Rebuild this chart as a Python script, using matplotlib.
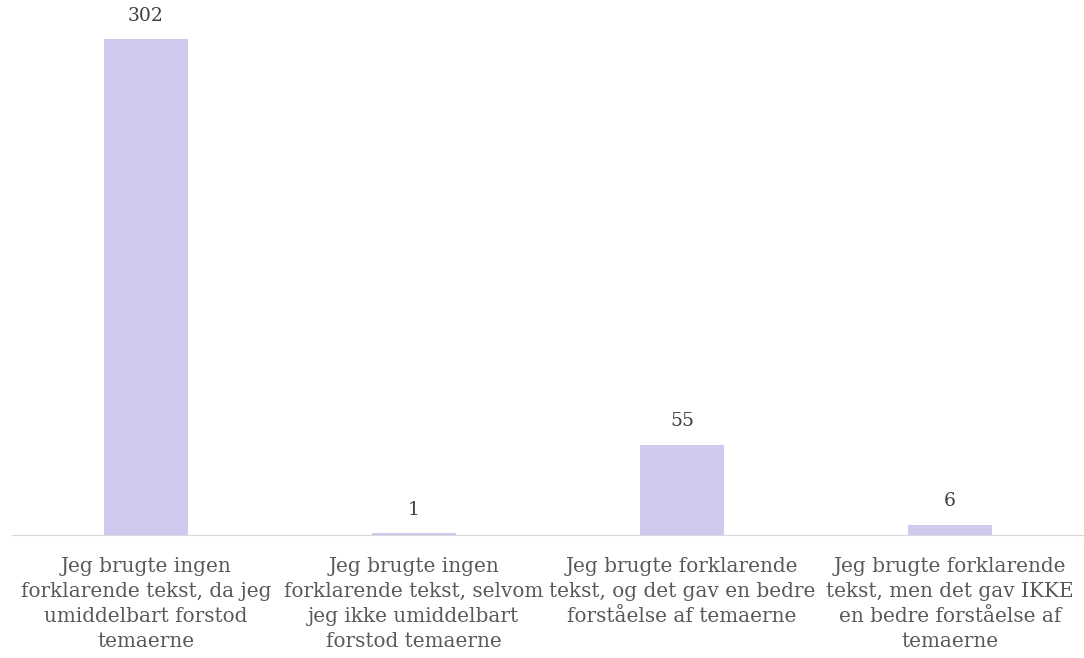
import matplotlib
matplotlib.use("Agg")
import matplotlib.pyplot as plt

categories = [
    "Jeg brugte ingen\nforklarende tekst, da jeg\numiddelbart forstod\ntemaerne",
    "Jeg brugte ingen\nforklarende tekst, selvom\njeg ikke umiddelbart\nforstod temaerne",
    "Jeg brugte forklarende\ntekst, og det gav en bedre\nforståelse af temaerne",
    "Jeg brugte forklarende\ntekst, men det gav IKKE\nen bedre forståelse af\ntemaerne",
]
counts = [302, 1, 55, 6]

bar_color = "#D0C8EE"
text_color = "#595959"

plt.rcParams['font.family'] = ['DejaVu Serif']

fig = plt.figure(figsize=(10.84, 6.58), dpi=100)
ax = fig.add_axes([12/1084, 123/658, 1 - 12/1084, 1 - 123/658])

x = range(len(counts))
bars = ax.bar(x, counts, width=0.31, color=bar_color)
for xi, v in zip(x, counts):
    ax.text(xi, v + 9, str(v), ha='center', va='bottom', fontsize=13.5, color="#404040")

ax.set_xlim(-0.5, len(counts) - 0.5)
ax.set_ylim(0, 326)
ax.set_yticks([])
ax.set_xticks(list(x))
ax.set_xticklabels(categories, fontsize=14.4, color=text_color, linespacing=1.4)
ax.tick_params(axis='x', length=0, pad=16)
for s in ['top', 'right', 'left']:
    ax.spines[s].set_visible(False)
ax.spines['bottom'].set_color("#D9D9D9")

fig.savefig("out.png", dpi=100)
